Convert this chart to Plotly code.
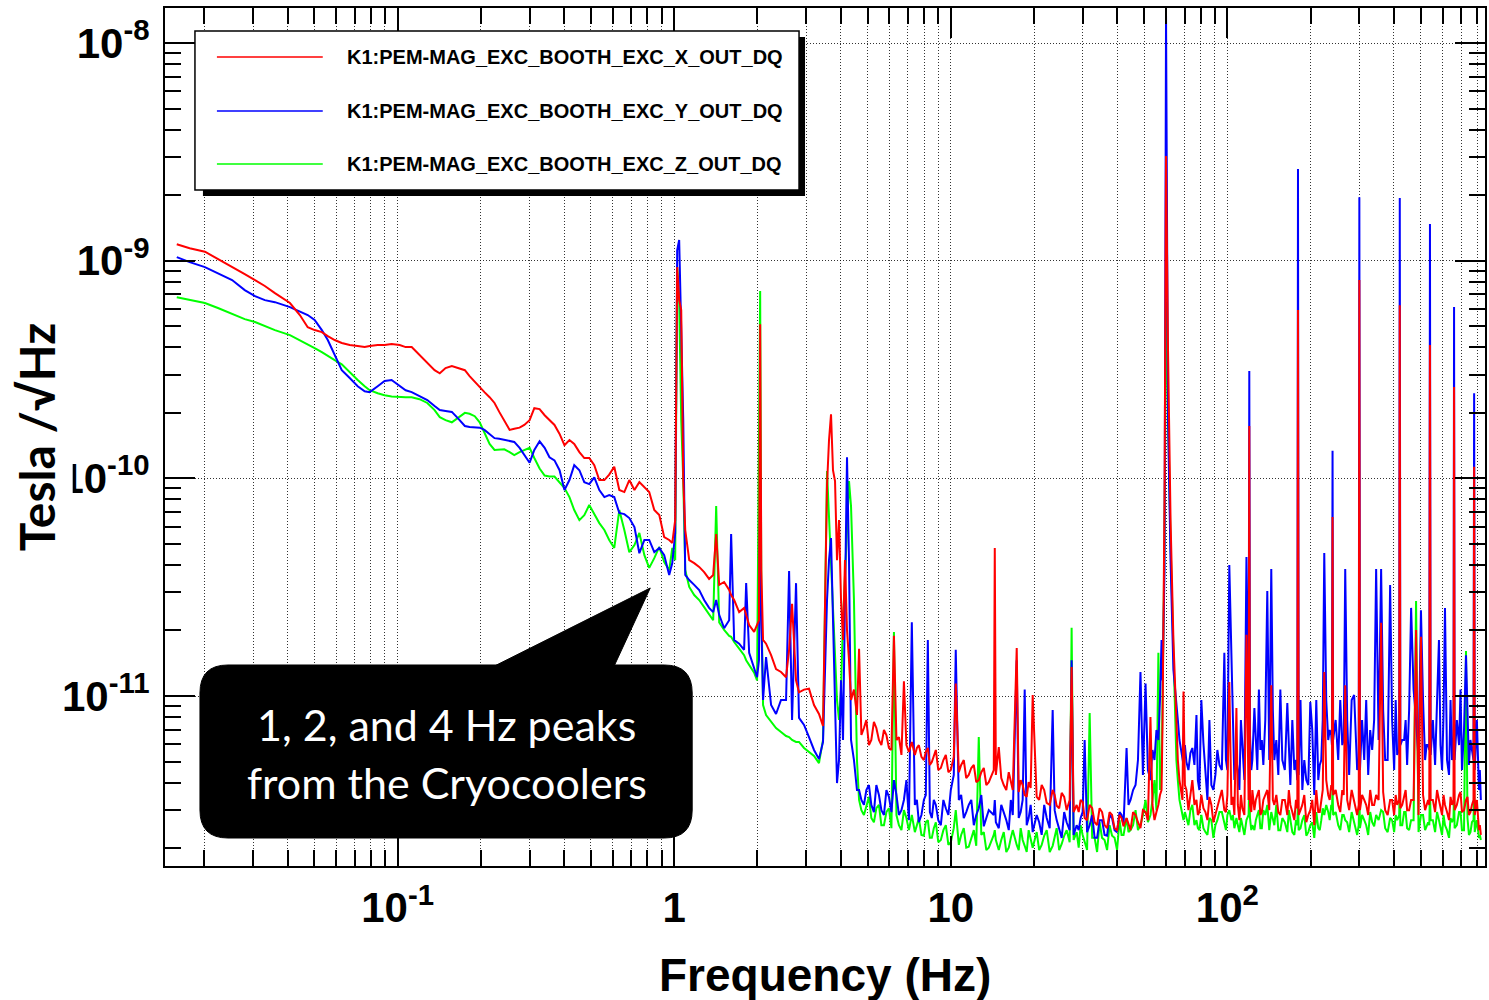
import plotly.graph_objects as go

# ---------------- data (frequency in Hz, ASD in pT/sqrt(Hz)) ----------------
freq_hz = [
    # 0.016 - 1 Hz
    0.0159, 0.0177, 0.0201, 0.0224, 0.0252, 0.0280, 0.0305, 0.0331, 0.0360, 0.0408,
    0.0443, 0.0473, 0.0501, 0.0532, 0.0559, 0.0592, 0.0628, 0.0671, 0.0717, 0.0760,
    0.0792, 0.0847, 0.0897, 0.0951, 0.1017, 0.1069, 0.1124, 0.120, 0.128, 0.136,
    0.142, 0.149, 0.157, 0.165, 0.175, 0.182, 0.190, 0.198, 0.206, 0.215,
    0.224, 0.233, 0.243, 0.254, 0.264, 0.276, 0.287, 0.300, 0.312, 0.326,
    0.340, 0.354, 0.369, 0.385, 0.401, 0.418, 0.435, 0.454, 0.473, 0.493,
    0.514, 0.536, 0.559, 0.582, 0.607, 0.633, 0.660, 0.688, 0.718, 0.748,
    0.780, 0.812, 0.847, 0.883, 0.920, 0.959, 0.984,
    # 1 - 4.6 Hz
    1.008, 1.025, 1.042, 1.060, 1.078, 1.096, 1.133, 1.181, 1.231, 1.283,
    1.337, 1.383, 1.418, 1.454, 1.515, 1.580, 1.606, 1.647, 1.717, 1.789,
    1.820, 1.866, 1.945, 1.993, 2.025, 2.045, 2.065, 2.095, 2.148, 2.240,
    2.334, 2.433, 2.537, 2.602, 2.667, 2.757, 2.826, 2.947, 3.071, 3.202,
    3.337, 3.451, 3.568, 3.628, 3.689, 3.750, 3.814, 3.877, 3.943, 4.009,
    4.076, 4.144, 4.214, 4.285, 4.357, 4.465, 4.578,
    # 4.6 - 58 Hz
    4.659, 4.852, 5.058, 5.272, 5.497, 5.731, 5.974, 6.228, 6.493, 6.768,
    7.056, 7.228, 7.414, 7.664, 7.990, 8.259, 8.538, 8.828, 9.203, 9.593,
    10.00, 10.25, 10.42, 10.69, 11.14, 11.61, 12.11, 12.62, 13.16, 13.72,
    14.30, 14.42, 14.55, 14.91, 15.54, 16.20, 16.75, 17.31, 17.89, 18.50,
    19.12, 19.77, 20.44, 21.31, 22.22, 23.35, 24.14, 25.17, 26.23, 26.9,
    27.34, 27.8, 28.51, 29.47, 30.47, 31.77, 33.11, 34.51, 35.97, 37.50,
    39.09, 40.74, 42.12, 43.2, 44.65, 46.55, 48.5, 50.6, 52.7, 54.5,
    56.3, 57.8,
    # 58 - 825 Hz
    58.3, 59.25, 60.0, 61.0, 62.3, 63.8, 65.4, 67.1, 68.8, 69.4,
    71.1, 73.5, 76.0, 77.3, 79.2, 81.9, 84.7, 87.5, 90.5, 93.6,
    97.5, 100.0, 101.6, 103.4, 106.0, 107.8, 110.5, 113.3, 117.2, 119.3,
    120.0, 120.7, 123.1, 125.2, 128.3, 131.6, 134.9, 139.4, 144.1, 147.8,
    152.8, 158.0, 164.7, 168.9, 174.6, 179.0, 180.0, 181.0, 186.6, 192.9,
    199.4, 206.1, 213.1, 218.5, 224.0, 231.5, 237.4, 238.8, 240.0, 241.2,
    251.6, 260.2, 266.7, 275.6, 287.3, 294.6, 298.5, 300.0, 301.5, 312.4,
    322.9, 333.8, 345.0, 359.6, 371.9, 387.6, 400.8, 411.0, 418.0, 420.0,
    422.0, 435.5, 446.5, 461.6, 481.0, 501.0, 518.6, 531.7, 537.0, 540.0,
    543.0, 563.6, 582.0, 597.3, 612.0, 633.0, 649.0, 657.0, 660.0, 663.0,
    688.0, 705.0, 729.0, 747.0, 766.0, 776.0, 780.0, 784.0, 812.0, 825.0,
]

asd_x_pT = [
    1190, 1140, 1100, 1020, 934, 868, 815, 765, 710, 639,
    563, 495, 480, 470, 450, 432, 419, 410, 406, 401,
    406, 410, 410, 414, 410, 401, 401, 368, 338, 314,
    304, 321, 328, 321, 314, 295, 277, 262, 249, 236,
    222, 202, 183, 167, 169, 171, 176, 185, 210, 208,
    195, 185, 176, 160, 142, 150, 144, 132, 124, 124,
    115, 98.2, 98.2, 104, 113, 88.4, 86.5, 98.2, 88.4, 96.1,
    91.2, 86.5, 71.5, 67.8, 53.7, 52.1, 50.5,
    64.3, 934, 659, 593, 98.2, 57.9, 42.1, 40.8, 39.2, 37.1,
    34.5, 36.0, 55.5, 32.4, 33.4, 30.7, 29.1, 27.6, 24.3, 25.4,
    23.4, 21.2, 19.7, 21.2, 22.3, 511, 37.9, 18.1, 17.4, 15.4,
    13.3, 12.9, 12.2, 16.3, 26.5, 11.8, 10.4, 10.7, 10.8, 9.09,
    8.27, 7.28, 93.2, 150, 197, 109, 97.2, 42.1, 64.3, 27.6,
    18.1, 42.1, 20.1, 14.6, 9.59, 10.7, 8.18,
    16.5, 7.13, 5.95, 7.60, 6.28, 6.98, 5.77, 18.9, 6.48, 11.7,
    5.53, 6.15, 5.36, 5.95, 5.08, 5.77, 4.97, 5.65, 4.67, 5.36,
    4.57, 5.25, 11.4, 4.47, 5.08, 4.34, 4.82, 4.11, 4.67, 4.02,
    4.57, 47.9, 4.34, 5.83, 3.90, 4.47, 3.70, 16.6, 4.11, 3.51,
    4.02, 10.1, 3.44, 3.90, 3.23, 3.70, 3.13, 3.59, 2.99, 3.33,
    13.6, 2.93, 3.16, 3.33, 2.75, 3.16, 2.63, 3.05, 2.55, 2.93,
    2.47, 2.84, 2.52, 2.75, 2.42, 2.84, 2.47, 2.93, 8.01, 2.69,
    3.16, 3.70,
    7.76, 79.5, 3024, 388, 64.3, 18.1, 7.76, 4.11, 3.33, 10.5,
    3.70, 3.51, 3.16, 3.33, 2.93, 3.05, 2.69, 3.16, 2.84, 3.33,
    2.99, 3.51, 11.6, 3.16, 2.84, 8.80, 2.69, 3.05, 19.1, 3.33,
    174, 3.16, 3.70, 2.99, 3.51, 2.84, 3.33, 3.70, 11.2, 3.16,
    2.93, 3.33, 2.84, 3.16, 2.69, 3.05, 593, 2.84, 3.16, 2.63,
    2.99, 2.55, 2.93, 3.33, 12.9, 3.51, 3.90, 3.70, 66.4, 3.51,
    3.16, 3.70, 11.2, 2.99, 3.33, 2.84, 3.16, 815, 2.99, 3.33,
    2.84, 3.16, 3.51, 21.7, 2.99, 3.33, 2.84, 3.16, 3.33, 625,
    3.05, 3.51, 2.99, 3.33, 20.1, 18.7, 2.99, 3.33, 3.16, 410,
    3.33, 2.93, 3.33, 2.84, 3.16, 2.69, 3.16, 3.33, 263, 2.99,
    3.51, 2.93, 3.33, 2.84, 3.16, 3.33, 113, 2.84, 2.42, 2.30,
]

asd_y_pT = [
    1039, 985, 934, 877, 815, 733, 688, 659, 645, 612,
    587, 563, 534, 480, 432, 368, 314, 289, 265, 251,
    249, 265, 280, 283, 265, 254, 249, 238, 229, 215,
    206, 204, 202, 189, 174, 172, 171, 171, 167, 160,
    153, 152, 150, 148, 147, 138, 128, 118, 135, 148,
    138, 125, 121, 109, 88.4, 98.2, 115, 109, 96.1, 94.1,
    101, 88.4, 82.0, 83.8, 82.0, 69.3, 68.5, 65.7, 59.7, 45.3,
    52.1, 52.1, 45.8, 47.9, 44.4, 36.0, 40.8,
    56.1, 1119, 1244, 480, 185, 36.0, 34.1, 32.4, 30.7, 27.6,
    25.4, 24.3, 27.6, 23.6, 20.5, 22.3, 55.5, 18.1, 17.4, 16.3,
    33.0, 15.8, 13.2, 12.2, 14.6, 97.2, 22.3, 9.59, 15.1, 9.09,
    8.27, 9.59, 9.59, 37.5, 7.76, 33.0, 7.93, 7.36, 6.48, 5.65,
    5.13, 6.15, 27.6, 42.1, 53.2, 22.3, 9.59, 3.98, 5.08, 11.8,
    6.28, 27.6, 125, 42.1, 6.28, 5.08, 3.70,
    3.70, 3.16, 3.90, 2.93, 3.51, 2.84, 3.44, 4.11, 2.84, 3.33,
    2.69, 21.8, 3.16, 2.63, 3.33, 18.1, 2.75, 3.16, 2.55, 3.05,
    3.70, 4.34, 16.3, 3.33, 2.75, 3.16, 2.55, 3.05, 2.52, 2.99,
    2.84, 3.33, 2.63, 2.47, 2.93, 2.42, 2.84, 14.6, 2.93, 10.7,
    2.75, 2.37, 2.84, 2.30, 2.75, 8.62, 2.69, 2.23, 2.63, 2.42,
    14.6, 2.30, 2.55, 2.75, 6.28, 2.55, 2.23, 2.69, 2.30, 2.84,
    2.42, 2.93, 2.55, 5.77, 3.33, 3.90, 12.9, 11.4, 4.11, 5.08,
    6.28, 18.1,
    11.8, 37.9, 13430, 185, 42.1, 13.2, 9.59, 6.28, 5.08, 4.82,
    4.97, 5.47, 4.82, 8.18, 3.70, 6.08, 3.33, 3.90, 4.34, 4.82,
    15.8, 4.57, 40.0, 16.0, 4.11, 5.08, 3.70, 5.95, 43.5, 6.28,
    311, 6.62, 5.08, 8.80, 4.57, 5.65, 4.82, 30.4, 38.3, 5.08,
    4.34, 5.08, 9.29, 3.90, 4.57, 4.11, 2635, 4.34, 3.70, 4.11,
    9.39, 3.51, 4.11, 5.08, 45.4, 6.28, 6.62, 5.95, 134, 6.28,
    5.08, 5.95, 38.3, 4.34, 10.1, 4.57, 4.82, 1959, 4.57, 5.08,
    4.34, 5.65, 38.3, 38.3, 5.08, 32.4, 4.57, 5.36, 5.65, 1939,
    5.95, 6.28, 4.82, 25.4, 7.76, 24.8, 5.08, 5.95, 5.65, 1473,
    5.36, 4.82, 18.1, 4.57, 25.4, 4.34, 5.08, 5.65, 613, 5.08,
    5.95, 4.57, 15.4, 4.82, 5.65, 5.08, 246, 4.57, 3.70, 3.33,
]

asd_z_pT = [
    680, 659, 639, 606, 568, 539, 523, 501, 480, 455,
    432, 414, 397, 380, 364, 349, 334, 307, 283, 265,
    254, 246, 241, 238, 236, 236, 236, 231, 222, 206,
    191, 185, 181, 189, 200, 198, 193, 181, 163, 144,
    135, 136, 136, 132, 128, 132, 135, 138, 124, 111,
    103, 102, 102, 96.1, 90.3, 82.0, 71.5, 64.3, 67.8, 75.4,
    68.5, 62.3, 57.9, 52.1, 47.9, 71.5, 57.9, 45.8, 49.4, 56.1,
    44.4, 38.8, 43.0, 48.4, 41.2, 37.9, 47.9,
    42.1, 934, 659, 185, 98.2, 37.9, 31.7, 29.1, 27.6, 25.6,
    23.6, 22.3, 74.6, 21.8, 20.1, 18.9, 18.7, 17.7, 16.5, 15.4,
    14.6, 13.9, 12.8, 11.8, 120, 725, 27.6, 9.09, 8.18, 7.60,
    7.13, 6.83, 6.55, 6.48, 6.28, 6.15, 6.15, 5.77, 5.53, 5.30,
    4.92, 6.28, 108, 64.3, 42.1, 27.6, 16.3, 9.59, 7.76, 10.7,
    22.3, 34.1, 57.9, 97.2, 74.6, 27.6, 5.08,
    3.33, 2.84, 3.44, 2.63, 3.16, 2.55, 3.05, 19.7, 2.55, 2.99,
    2.42, 2.84, 2.37, 2.75, 2.28, 2.69, 2.23, 2.63, 2.18, 2.55,
    2.13, 2.47, 2.99, 2.07, 2.47, 2.03, 2.42, 6.48, 2.37, 2.01,
    2.30, 2.42, 2.18, 1.96, 2.37, 2.01, 2.42, 2.07, 2.47, 2.05,
    2.42, 2.01, 2.37, 2.07, 2.42, 2.05, 2.47, 2.09, 2.42, 2.13,
    20.6, 2.18, 2.37, 2.55, 2.13, 8.36, 2.23, 2.63, 2.18, 2.55,
    2.23, 2.69, 2.30, 2.75, 2.42, 2.99, 2.55, 3.33, 2.84, 4.11,
    15.8, 4.57,
    9.59, 52.1, 645, 204, 51.0, 16.3, 5.08, 3.33, 2.84, 2.69,
    2.75, 2.99, 2.55, 2.69, 2.42, 2.47, 2.30, 2.69, 2.55, 2.93,
    2.63, 2.84, 2.99, 2.69, 2.47, 2.75, 2.37, 2.55, 2.69, 2.84,
    4.11, 2.75, 2.55, 2.42, 2.84, 2.47, 2.99, 3.16, 2.93, 2.55,
    2.42, 2.75, 2.37, 2.63, 2.30, 2.55, 3.33, 2.42, 2.69, 2.28,
    2.55, 2.23, 2.47, 2.69, 2.84, 2.93, 3.16, 2.99, 3.70, 2.84,
    2.55, 2.84, 2.69, 2.37, 2.63, 2.30, 2.55, 3.70, 2.47, 2.69,
    2.30, 2.63, 2.84, 2.99, 2.47, 2.75, 2.37, 2.69, 2.84, 4.11,
    2.55, 2.93, 2.47, 2.69, 27.3, 2.84, 2.42, 2.63, 2.55, 3.70,
    2.69, 2.37, 2.69, 2.30, 2.55, 2.23, 2.63, 2.75, 3.70, 2.47,
    2.93, 2.42, 16.1, 2.30, 2.63, 2.69, 3.70, 2.37, 2.23, 2.18,
]

# additional noise-floor samples read between the points above (4.7 - 820 Hz)
freq_hz_extra = [
    4.75, 4.95, 5.16, 5.38, 5.61, 5.85, 6.10, 6.36, 6.63, 6.91,
    7.54, 7.83, 8.12, 8.40, 8.68, 9.01, 9.40, 9.80, 10.9, 11.37,
    11.86, 12.36, 12.89, 13.44, 15.22, 15.87, 16.48, 17.60, 18.19, 18.81,
    19.44, 20.87, 21.76, 22.78, 23.74, 24.65, 25.70, 29.0, 29.97, 31.1,
    32.44, 33.8, 35.23, 36.73, 38.29, 39.91, 41.43, 43.9, 45.6, 47.5,
    49.5, 51.6, 53.6, 55.4, 57.05,
    66.2, 70.2, 72.3, 74.7, 78.2, 80.5, 83.3, 86.1, 89.0, 92.0,
    95.5, 98.8, 104.7, 109.1, 111.9, 115.2, 122.0, 126.7, 130.0, 133.2,
    137.1, 141.7, 146.0, 150.3, 155.4, 161.3, 166.8, 171.7, 177.0, 183.8,
    189.7, 196.1, 202.7, 209.6, 215.8, 221.2, 227.7, 234.4, 246.3, 255.9,
    263.4, 271.1, 281.4, 290.9, 306.9, 317.6, 328.3, 339.3, 352.2, 365.7,
    379.7, 394.1, 405.9, 428.7, 441.0, 454.0, 471.2, 491.0, 509.8, 525.1,
    553.3, 572.8, 589.6, 604.6, 622.5, 641.0, 675.5, 696.5, 717.0, 738.0,
    756.5, 798.0, 818.0,
]
asd_x_pT_extra = [
    6.62, 7.76, 6.28, 7.13, 5.95, 6.62, 5.65, 6.28, 5.36, 5.95,
    5.77, 5.25, 5.53, 4.82, 5.36, 4.57, 5.08, 4.47, 4.82, 4.20,
    4.67, 4.02, 4.47, 3.90, 4.20, 3.70, 4.11, 3.62, 3.90, 3.44,
    3.78, 3.33, 3.70, 3.16, 3.51, 3.05, 3.44, 2.93, 3.26, 2.69,
    3.05, 2.55, 2.93, 2.47, 2.84, 2.42, 2.75, 2.55, 2.93, 2.63,
    2.99, 2.69, 3.16, 2.93, 3.51,
    5.08, 3.90, 2.99, 4.11, 2.84, 3.51, 2.93, 3.44, 2.63, 3.05,
    3.70, 2.93, 3.44, 3.16, 3.51, 2.84, 2.93, 3.33, 3.70, 2.93,
    3.51, 2.99, 3.33, 3.51, 2.84, 3.33, 3.70, 2.93, 3.33, 2.99,
    3.51, 2.84, 3.33, 3.70, 2.93, 3.70, 4.11, 3.33, 3.70, 2.93,
    3.51, 3.33, 3.70, 3.05, 3.51, 3.16, 3.70, 3.16, 3.33, 3.62,
    2.84, 3.33, 3.51, 3.16, 3.70, 2.99, 3.33, 2.84, 3.51, 3.16,
    3.33, 3.70, 3.05, 3.51, 2.93, 3.44, 3.16, 3.62, 2.99, 3.44,
    2.93, 3.33, 2.55,
]
asd_y_pT_extra = [
    3.33, 3.70, 3.16, 3.90, 2.99, 3.70, 2.93, 3.51, 2.99, 4.11,
    3.33, 2.84, 3.51, 2.93, 3.33, 2.69, 3.33, 2.84, 3.51, 2.93,
    3.33, 2.84, 3.51, 2.75, 3.16, 2.69, 3.33, 2.75, 3.33, 2.55,
    3.16, 2.63, 3.16, 2.47, 2.99, 2.42, 2.93, 2.42, 2.93, 2.37,
    2.84, 2.23, 2.69, 2.28, 2.75, 2.37, 2.84, 3.16, 3.70, 5.08,
    4.34, 4.57, 5.65, 6.98, 9.59,
    7.76, 5.95, 4.57, 5.77, 4.11, 9.59, 4.57, 7.76, 3.70, 5.65,
    4.57, 5.08, 9.59, 4.57, 7.76, 4.11, 4.57, 6.28, 10.7, 6.28,
    7.76, 5.08, 8.62, 6.28, 10.7, 4.57, 5.95, 7.76, 5.08, 9.59,
    5.08, 3.90, 6.98, 9.59, 4.82, 7.76, 9.59, 6.98, 7.76, 9.59,
    6.28, 7.76, 9.59, 6.28, 7.76, 9.59, 6.98, 7.76, 6.28, 8.62,
    5.08, 7.76, 9.59, 6.28, 7.76, 8.62, 10.7, 5.08, 9.59, 5.95,
    7.76, 9.59, 5.95, 8.18, 5.08, 9.59, 7.76, 10.7, 6.98, 9.59,
    6.28, 7.76, 4.57,
]
asd_z_pT_extra = [
    2.99, 3.16, 2.75, 3.05, 2.55, 2.93, 2.47, 2.84, 2.42, 2.75,
    2.55, 2.30, 2.63, 2.23, 2.47, 2.13, 2.42, 2.07, 2.30, 2.01,
    2.23, 2.05, 2.30, 1.96, 2.18, 1.92, 2.23, 1.96, 2.18, 1.92,
    2.23, 1.96, 2.28, 1.92, 2.23, 1.96, 2.28, 2.01, 2.30, 1.96,
    2.23, 1.92, 2.23, 1.96, 2.28, 1.96, 2.30, 2.37, 2.55, 2.42,
    2.84, 2.63, 3.33, 2.99, 3.70,
    4.11, 2.93, 2.55, 3.16, 2.47, 2.84, 2.37, 2.75, 2.23, 2.69,
    2.93, 2.42, 2.84, 2.55, 2.75, 2.30, 2.42, 2.69, 2.99, 2.47,
    2.84, 2.42, 2.75, 3.16, 2.42, 2.63, 2.99, 2.37, 2.69, 2.47,
    2.84, 2.37, 2.63, 2.93, 2.42, 3.05, 3.16, 2.69, 2.93, 2.42,
    2.84, 2.63, 2.93, 2.47, 2.84, 2.55, 2.93, 2.52, 2.69, 2.93,
    2.37, 2.69, 2.84, 2.55, 2.93, 2.42, 2.69, 2.37, 2.84, 2.52,
    2.69, 2.93, 2.47, 2.84, 2.42, 2.75, 2.55, 2.93, 2.42, 2.75,
    2.37, 2.69, 2.30,
]

channel_names = [
    "K1:PEM-MAG_EXC_BOOTH_EXC_X_OUT_DQ",
    "K1:PEM-MAG_EXC_BOOTH_EXC_Y_OUT_DQ",
    "K1:PEM-MAG_EXC_BOOTH_EXC_Z_OUT_DQ",
]
channel_colors = ["#ff0000", "#0000ff", "#00ff00"]

x_tick_vals = [0.1, 1, 10, 100]
x_tick_text = ["10<sup>-1</sup>", "1", "10", "10<sup>2</sup>"]
y_tick_vals = [1e-11, 1e-10, 1e-9, 1e-8]
y_tick_text = ["10<sup>-11</sup>", "10<sup>-10</sup>", "10<sup>-9</sup>", "10<sup>-8</sup>"]

x_minor = [m * 10.0 ** e for e in range(-2, 3) for m in range(2, 10)]
y_minor = [m * 10.0 ** e for e in range(-12, -8) for m in range(2, 10)]

annotation_lines = ["1, 2, and 4 Hz peaks", "from the Cryocoolers"]

# ---------------- merge samples in frequency order ----------------
rows = list(zip(freq_hz, asd_x_pT, asd_y_pT, asd_z_pT)) + \
    list(zip(freq_hz_extra, asd_x_pT_extra, asd_y_pT_extra, asd_z_pT_extra))
rows.sort(key=lambda r: r[0])
f_all = [r[0] for r in rows]
series = [[r[1] for r in rows], [r[2] for r in rows], [r[3] for r in rows]]

# ---------------- figure ----------------
W, H = 1489, 1000
L, R, T, B = 165, 1487, 8, 866


def pxx(x):
    return (x - L) / (R - L)


def pxy(y):
    return (B - y) / (B - T)


fig = go.Figure()
for idx in [2, 1, 0]:
    fig.add_trace(go.Scatter(
        x=f_all,
        y=[v * 1e-12 for v in series[idx]],
        mode="lines",
        name=channel_names[idx],
        line=dict(color=channel_colors[idx], width=2.0),
        showlegend=False,
    ))

grid_color = "rgba(0,0,0,0.8)"
tick_font = dict(family="Liberation Sans, Arial, sans-serif", size=42, color="black", weight="bold")

fig.update_layout(
    width=W, height=H,
    margin=dict(l=L, r=W - R, t=T, b=H - B),
    paper_bgcolor="white", plot_bgcolor="white",
    xaxis=dict(
        type="log",
        range=[(L - 675) / 277.0, (R - 675) / 277.0],
        tickmode="array", tickvals=x_tick_vals, ticktext=x_tick_text,
        ticks="inside", ticklen=30, tickwidth=1.5, tickcolor="black",
        showgrid=True, gridcolor=grid_color, gridwidth=1, griddash="1px,2px",
        minor=dict(tickmode="array", tickvals=x_minor, ticks="inside", ticklen=16,
                   tickwidth=1.5, tickcolor="black", showgrid=True,
                   gridcolor=grid_color, gridwidth=1, griddash="1px,2px"),
        showline=True, linecolor="black", linewidth=2, mirror="allticks",
        zeroline=False, tickfont=tick_font, ticklabelstandoff=4,
    ),
    yaxis=dict(
        type="log",
        range=[-11.781, -7.839],
        tickmode="array", tickvals=y_tick_vals, ticktext=y_tick_text,
        ticks="inside", ticklen=30, tickwidth=1.5, tickcolor="black",
        showgrid=True, gridcolor=grid_color, gridwidth=1, griddash="1px,2px",
        minor=dict(tickmode="array", tickvals=y_minor, ticks="inside", ticklen=16,
                   tickwidth=1.5, tickcolor="black", showgrid=False),
        showline=True, linecolor="black", linewidth=2, mirror="allticks",
        zeroline=False, tickfont=tick_font, ticklabelstandoff=5,
    ),
)

shapes = []
annotations = []

# legend box with shadow
lg_x0, lg_y0, lg_x1, lg_y1 = 195, 31, 800, 190
shapes.append(dict(type="rect", xref="paper", yref="paper",
                   x0=pxx(lg_x0 + 8), x1=pxx(lg_x1 + 6), y0=pxy(lg_y1 + 6), y1=pxy(lg_y0 + 6),
                   fillcolor="black", line=dict(width=0), layer="above"))
shapes.append(dict(type="rect", xref="paper", yref="paper",
                   x0=pxx(lg_x0), x1=pxx(lg_x1), y0=pxy(lg_y1), y1=pxy(lg_y0),
                   fillcolor="white", line=dict(color="black", width=1.5), layer="above"))
row_y = [57, 111, 164]
for i in range(3):
    shapes.append(dict(type="line", xref="paper", yref="paper",
                       x0=pxx(217), x1=pxx(323), y0=pxy(row_y[i]), y1=pxy(row_y[i]),
                       line=dict(color=channel_colors[i], width=1.6), layer="above"))
    annotations.append(dict(xref="paper", yref="paper", x=pxx(345), y=pxy(row_y[i]),
                            xanchor="left", yanchor="middle", showarrow=False,
                            text=channel_names[i],
                            font=dict(family="Liberation Sans, Arial, sans-serif", size=20,
                                      color="black", weight="bold")))

# callout box with pointer
bx0, by0, bx1, by1, rr = 200, 665, 693, 838, 28


def P(x, y):
    return f"{pxx(x):.5f},{pxy(y):.5f}"


rect_path = (
    f"M {P(bx0 + rr, by0)} L {P(bx1 - rr, by0)} Q {P(bx1, by0)} {P(bx1, by0 + rr)} "
    f"L {P(bx1, by1 - rr)} Q {P(bx1, by1)} {P(bx1 - rr, by1)} "
    f"L {P(bx0 + rr, by1)} Q {P(bx0, by1)} {P(bx0, by1 - rr)} "
    f"L {P(bx0, by0 + rr)} Q {P(bx0, by0)} {P(bx0 + rr, by0)} Z"
)
shapes.append(dict(type="path", xref="paper", yref="paper", path=rect_path,
                   fillcolor="black", line=dict(color="black", width=1), layer="above"))
shapes.append(dict(type="path", xref="paper", yref="paper",
                   path=f"M {P(487, 670)} L {P(651, 588)} L {P(613, 670)} Z",
                   fillcolor="black", line=dict(color="black", width=1), layer="above"))
for txt, yy in zip(annotation_lines, [724, 782]):
    annotations.append(dict(xref="paper", yref="paper", x=pxx(447), y=pxy(yy),
                            xanchor="center", yanchor="middle", showarrow=False, text=txt,
                            font=dict(family="Lato, Open Sans, sans-serif", size=43, color="white")))

# axis titles
annotations.append(dict(xref="paper", yref="paper", x=pxx(826), y=pxy(975),
                        xanchor="center", yanchor="middle", showarrow=False,
                        text="Frequency (Hz)",
                        font=dict(family="Liberation Sans, Arial, sans-serif", size=46,
                                  color="black", weight="bold")))
annotations.append(dict(xref="paper", yref="paper", x=pxx(36), y=pxy(437),
                        xanchor="center", yanchor="middle", showarrow=False,
                        text="Tesla /√Hz", textangle=-90, bgcolor="white", borderpad=7,
                        font=dict(family="Lato, Open Sans, sans-serif", size=48,
                                  color="black", weight="bold")))

fig.update_layout(shapes=shapes, annotations=annotations)
fig.write_html("out.html")
